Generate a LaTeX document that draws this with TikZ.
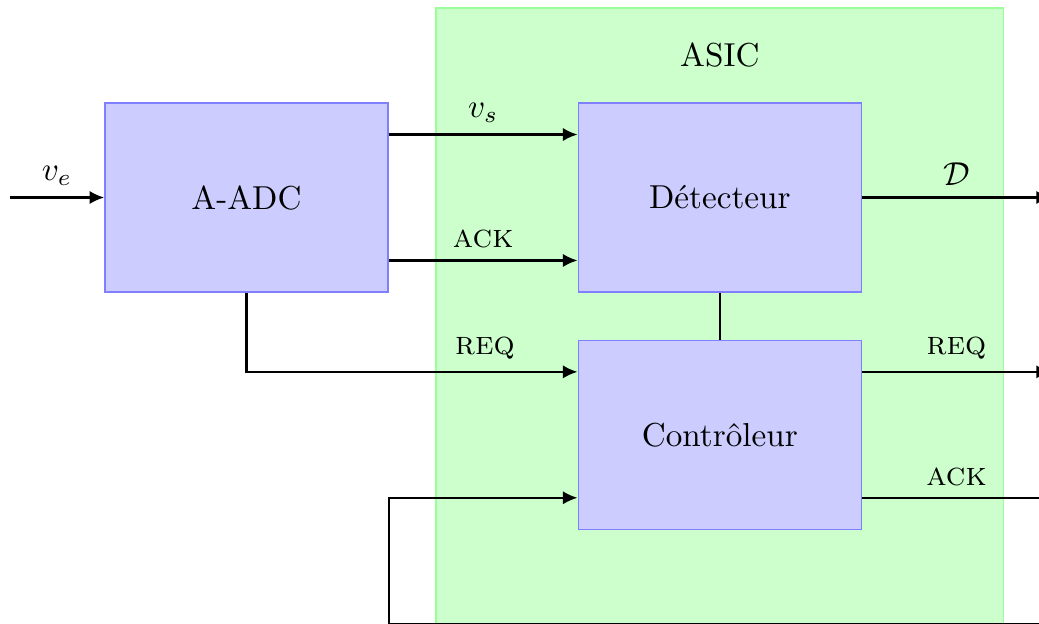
\documentclass[tikz,border=0pt]{standalone}
\usepackage{amsmath,amssymb}
\usetikzlibrary{arrows.meta,positioning,fit,backgrounds}

\tikzset{
  bloc/.style={draw=blue!50,fill=blue!20,minimum width=3cm,minimum height=2cm},
  fil/.style={line width=0.7pt},
  fleche/.style={line width=0.7pt,-{Latex[length=4.4pt,width=4pt]}}
}

\begin{document}
\begin{tikzpicture}
\clip (-2.611,2.092) rectangle (8.395,-4.512);
% blocs
\node[bloc] (adc) at (0,0) {A-ADC};
\node[bloc,right=2cm of adc] (det) {Détecteur};
\node[bloc,below=5mm of det] (ctrl) {Contrôleur};
\begin{scope}[on background layer]
\node[draw=green!40,fill=green!20,fit=(det)(ctrl),inner xsep=1.5cm,inner ysep=1cm] (asic) {};
\end{scope}
\node at ([yshift=-5mm]asic.north) {ASIC};
% entrees
\coordinate[left=1cm of adc] (entree);
\draw[fleche] (entree) -- node[above] {$v_e$} (adc);
\draw[fleche] ([yshift=6.67mm]adc.east) -- node[above] {$v_s$} ([yshift=6.67mm]det.west);
\draw[fleche] ([yshift=-6.67mm]adc.east) -- node[above] {\textsc{ack}} ([yshift=-6.67mm]det.west);
\draw[fleche] (adc.south) |- node[pos=0.86,above] {\textsc{req}} ([yshift=6.67mm]ctrl.west);
\draw[fil] (det) -- (ctrl);
% sorties
\draw[fleche] (det.east) -- node[above] {$\mathcal{D}$} ++(2,0);
\draw[fleche] ([yshift=6.67mm]ctrl.east) -- node[above] {\textsc{req}} ++(2,0);
\coordinate (boucle) at ([yshift=-1cm]ctrl.south -| adc.east);
\draw[fleche] ([yshift=-6.67mm]ctrl.east) -- node[above] {\textsc{ack}} ++(2,0) |- (boucle) |- ([yshift=-6.67mm]ctrl.west);
\end{tikzpicture}
\end{document}
